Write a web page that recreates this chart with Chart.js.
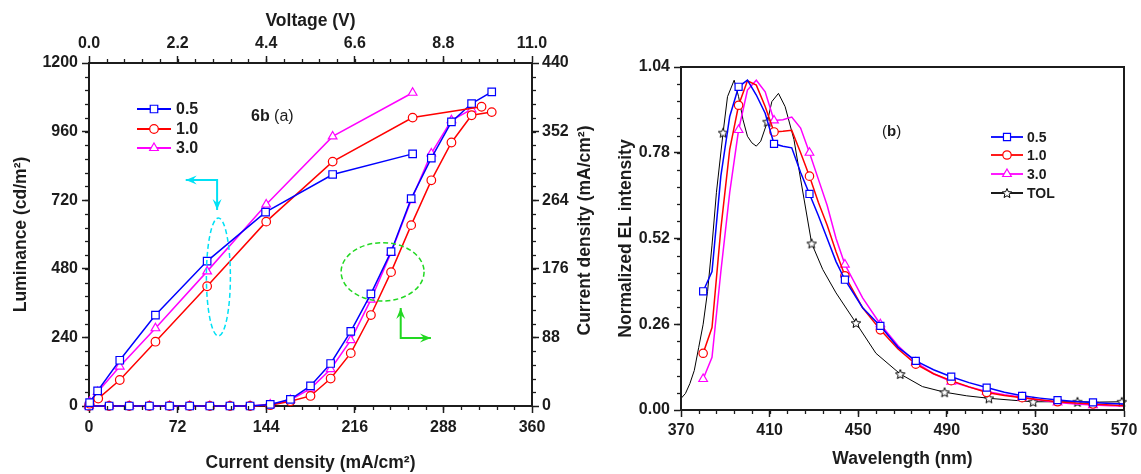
<!DOCTYPE html>
<html>
<head>
<meta charset="utf-8">
<title>EL device characteristics</title>
<script src="https://cdn.jsdelivr.net/npm/chart.js@4.4.1/dist/chart.umd.min.js"></script>
<style>
  html, body { margin: 0; padding: 0; background: #fff; }
  #wrap { position: relative; width: 1141px; height: 474px; overflow: hidden; background: #fff; }
  #panelA { position: absolute; left: 0; top: 0; }
  #panelB { position: absolute; left: 600px; top: 0; }
</style>
</head>
<body>
<div id="wrap">
  <canvas id="panelA" width="600" height="474"></canvas>
  <canvas id="panelB" width="541" height="474"></canvas>
</div>
<script>
// ---------------- Panel (a) data ----------------
const jTicks      = [0, 72, 144, 216, 288, 360];
const vTicks      = [0, 2.2, 4.4, 6.6, 8.8, 11];
const lumTicks    = [0, 240, 480, 720, 960, 1200];
const jRightTicks = [0, 88, 176, 264, 352, 440];

const seriesNames = ['0.5', '1.0', '3.0'];

// luminance (cd/m2) against current density (mA/cm2)
const lumJ05 = [0.5, 7, 25, 54, 96, 143.5, 198, 263];
const lum05  = [12, 53, 160, 318, 507, 678, 810, 882];
const lumJ10 = [0.5, 7.5, 25, 54, 96, 144, 198, 263, 319];
const lum10  = [8, 26, 91, 225, 419, 645, 855, 1009, 1047];
const lumJ30 = [0.5, 7, 25, 54, 96, 144, 198, 263];
const lum30  = [14, 49, 138, 272, 471, 705, 943, 1096];

// current density (mA/cm2) against voltage (V)
const volts   = [0, 0.5, 1, 1.5, 2, 2.5, 3, 3.5, 4, 4.5, 5, 5.5, 6, 6.5, 7, 7.5, 8, 8.5, 9, 9.5, 10];
const jv05    = [0, 0, 0, 0, 0, 0, 0, 0, 0, 2, 8.6, 25.8, 54.5, 95.7, 143.8, 198, 266, 318, 364.5, 388, 403];
const jv10    = [0, 0, 0, 0, 0, 0, 0, 0, 0, 1, 6, 12.9, 35.2, 67.8, 116.7, 171.7, 232, 289.5, 338, 373, 377];
const volts30 = [0, 0.5, 1, 1.5, 2, 2.5, 3, 3.5, 4, 4.5, 5, 5.5, 6, 6.5, 7, 7.5, 8, 8.5, 9, 9.5];
const jv30    = [0, 0, 0, 0, 0, 0, 0, 0, 0, 2, 7.7, 22.3, 47.2, 84.5, 136.5, 196.6, 264, 324, 366.6, 380.6];

// ---------------- Panel (b) data ----------------
const waveTicks = [370, 410, 450, 490, 530, 570];
const elTicks   = [0, 0.26, 0.52, 0.78, 1.04];
const elNames   = ['0.5', '1.0', '3.0', 'TOL'];

const elWave = [380, 384, 388, 392, 396, 400, 404, 408, 412, 416, 420, 424, 428, 432, 436, 440, 444,
                452, 460, 468, 476, 484, 492, 500, 508, 516, 524, 532, 540, 548, 556, 564, 570];
const el05 = [0.36, 0.42, 0.71, 0.89, 0.98, 1.00, 0.955, 0.90, 0.807, 0.80, 0.795, 0.72, 0.655, 0.59, 0.52, 0.45, 0.395,
              0.31, 0.255, 0.19, 0.149, 0.122, 0.101, 0.083, 0.068, 0.054, 0.043, 0.036, 0.030, 0.026, 0.023, 0.020, 0.018];
const el10 = [0.172, 0.25, 0.55, 0.79, 0.924, 0.998, 0.985, 0.92, 0.843, 0.845, 0.848, 0.78, 0.709, 0.63, 0.56, 0.48, 0.407,
              0.31, 0.243, 0.185, 0.139, 0.11, 0.089, 0.07, 0.053, 0.044, 0.0375, 0.031, 0.025, 0.021, 0.018, 0.015, 0.013];
const el30 = [0.094, 0.16, 0.42, 0.66, 0.849, 0.97, 1.00, 0.965, 0.878, 0.88, 0.888, 0.855, 0.78, 0.70, 0.62, 0.52, 0.441,
              0.34, 0.26, 0.195, 0.144, 0.11, 0.086, 0.07, 0.056, 0.046, 0.0385, 0.03, 0.023, 0.018, 0.015, 0.013, 0.012];
const elMarks = [380, 396, 412, 428, 444, 460, 476, 492, 508, 524, 540, 556];

const tolWave = [370, 372, 374, 376, 378, 380, 382, 384, 386, 389, 391, 394, 396, 398, 400, 402, 404, 406, 409, 411,
                 414, 417, 421, 424, 429, 434, 440, 449, 458, 469, 479, 489, 499, 509, 519, 529, 539, 549, 559, 569];
const tolEl   = [0.035, 0.05, 0.08, 0.12, 0.19, 0.26, 0.36, 0.50, 0.66, 0.841, 0.95, 1.00, 0.95, 0.88, 0.83, 0.81, 0.80, 0.815, 0.874, 0.935,
                 0.96, 0.92, 0.82, 0.70, 0.505, 0.426, 0.355, 0.264, 0.172, 0.109, 0.071, 0.054, 0.043, 0.0355, 0.03, 0.025, 0.025, 0.025, 0.024, 0.025];
const tolMarks = [389, 409, 429, 449, 469, 489, 509, 529, 549, 569];

// ---------------- styling ----------------
const FONT = "'Liberation Sans', Arial, Helvetica, sans-serif";
const INK = '#1c1c1c';
const BLUE = '#0000ff', RED = '#ff0000', MAGENTA = '#ff00ff', BLACK = '#000000';
const CYAN = '#00e1f5', GREEN = '#22d822';

Chart.defaults.font.family = FONT;
Chart.defaults.color = INK;

const pts = (xs, ys) => xs.map((x, i) => ({ x: x, y: ys[i] }));
const useTicks = arr => scale => { scale.ticks = arr.map(v => ({ value: v })); };
const tickFont = { size: 16, weight: 'bold' };
const titleFont = { size: 17.5, weight: 'bold' };

function axis(extra) {
  return Object.assign({
    type: 'linear',
    grid: { drawOnChartArea: false, drawTicks: true, tickLength: 7, tickWidth: 1.5, tickColor: INK, color: INK },
    border: { display: true, color: INK, width: 2 }
  }, extra);
}

// hollow five-point star used as the TOL marker
function makeStar(size, color) {
  const c = document.createElement('canvas');
  c.width = size; c.height = size;
  const g = c.getContext('2d');
  const cx = size / 2, cy = size / 2 + 0.5, R = size / 2 - 1, r = R * 0.45;
  g.beginPath();
  for (let i = 0; i < 10; i++) {
    const a = -Math.PI / 2 + i * Math.PI / 5;
    const rr = (i % 2) ? r : R;
    g.lineTo(cx + rr * Math.cos(a), cy + rr * Math.sin(a));
  }
  g.closePath();
  g.fillStyle = '#fff'; g.fill();
  g.strokeStyle = color; g.lineWidth = 1; g.stroke();
  return c;
}
const starImg = makeStar(12, BLACK);

// minor tick marks between labelled ticks
function drawMinor(chart, spec) {
  const ctx = chart.ctx;
  ctx.save();
  ctx.strokeStyle = INK; ctx.lineWidth = 1.3;
  Object.keys(spec).forEach(id => {
    const s = chart.scales[id];
    const { step, from, to, len } = spec[id];
    for (let v = from + step; v < to - step * 0.01; v += step) {
      const p = Math.round(s.getPixelForValue(v)) + 0.5;
      ctx.beginPath();
      if (s.position === 'left')   { ctx.moveTo(s.right, p); ctx.lineTo(s.right - len, p); }
      if (s.position === 'right')  { ctx.moveTo(s.left, p);  ctx.lineTo(s.left + len, p); }
      if (s.position === 'top')    { ctx.moveTo(p, s.bottom); ctx.lineTo(p, s.bottom - len); }
      if (s.position === 'bottom') { ctx.moveTo(p, s.top);   ctx.lineTo(p, s.top + len); }
      ctx.stroke();
    }
  });
  ctx.restore();
}

function legendRows(ctx, rows, x0, x1, xt, font) {
  ctx.save();
  rows.forEach(r => {
    ctx.strokeStyle = r.color; ctx.lineWidth = 1.8;
    ctx.beginPath(); ctx.moveTo(x0, r.y); ctx.lineTo(x1, r.y); ctx.stroke();
    ctx.fillStyle = '#fff'; ctx.lineWidth = 1.2;
    Chart.helpers.drawPoint(ctx, { pointStyle: r.style, radius: r.radius, rotation: 0, borderWidth: 1.2 }, (x0 + x1) / 2, r.y);
    ctx.fillStyle = INK; ctx.font = font; ctx.textBaseline = 'middle'; ctx.textAlign = 'left';
    ctx.fillText(r.label, xt, r.y + 1);
  });
  ctx.restore();
}

function arrowHead(ctx, x, y, dx, dy) {
  const L = 11, W = 4.5, N = 7;
  const px = -dy, py = dx;
  ctx.beginPath();
  ctx.moveTo(x, y);
  ctx.lineTo(x - dx * L + px * W, y - dy * L + py * W);
  ctx.lineTo(x - dx * N, y - dy * N);
  ctx.lineTo(x - dx * L - px * W, y - dy * L - py * W);
  ctx.closePath();
  ctx.fill();
}
function dashedEllipse(ctx, sx, sy, e, color) {
  const xa = sx.getPixelForValue(e.x0), xb = sx.getPixelForValue(e.x1);
  const ya = sy.getPixelForValue(e.y0), yb = sy.getPixelForValue(e.y1);
  ctx.save();
  ctx.strokeStyle = color; ctx.lineWidth = 1.5; ctx.setLineDash([5, 3]);
  ctx.beginPath();
  ctx.ellipse((xa + xb) / 2, (ya + yb) / 2, Math.abs(xb - xa) / 2, Math.abs(yb - ya) / 2, 0, 0, Math.PI * 2);
  ctx.stroke();
  ctx.restore();
}
function elbowArrow(ctx, sx, sy, a, color) {
  const cx = sx.getPixelForValue(a.x), cy = sy.getPixelForValue(a.y);
  const tx = sx.getPixelForValue(a.xTip), ty = sy.getPixelForValue(a.yTip);
  ctx.save();
  ctx.strokeStyle = color; ctx.fillStyle = color; ctx.lineWidth = 2;
  ctx.beginPath(); ctx.moveTo(tx, cy); ctx.lineTo(cx, cy); ctx.lineTo(cx, ty); ctx.stroke();
  arrowHead(ctx, tx, cy, Math.sign(tx - cx), 0);
  arrowHead(ctx, cx, ty, 0, Math.sign(ty - cy));
  ctx.restore();
}

// guides that tie each curve family to its axes (in data units)
const guideA = {
  lumEllipse: { x0: 95.4, x1: 114.9, y0: 245, y1: 658 },
  lumArrow:   { x: 104.1, y: 791, xTip: 78.6, yTip: 686 },
  jvEllipse:  { x0: 6.26, x1: 8.32, y0: 134.7, y1: 209.5 },
  jvArrow:    { x: 7.74, y: 87.2, xTip: 8.49, yTip: 125.7 }
};

const panelAExtras = {
  id: 'panelAExtras',
  afterDatasetsDraw(chart) {
    const ctx = chart.ctx, s = chart.scales;
    dashedEllipse(ctx, s.x, s.y, guideA.lumEllipse, CYAN);
    elbowArrow(ctx, s.x, s.y, guideA.lumArrow, CYAN);
    dashedEllipse(ctx, s.xV, s.yJ, guideA.jvEllipse, GREEN);
    elbowArrow(ctx, s.xV, s.yJ, guideA.jvArrow, GREEN);
  },
  afterDraw(chart) {
    const ctx = chart.ctx, area = chart.chartArea;
    drawMinor(chart, {
      x:  { step: 14.4, from: 0, to: 360, len: 4 },
      xV: { step: 0.44, from: 0, to: 11, len: 4 },
      y:  { step: 48, from: 0, to: 1200, len: 4 },
      yJ: { step: 17.6, from: 0, to: 440, len: 4 }
    });
    legendRows(ctx, [
      { label: seriesNames[0], color: BLUE,    style: 'rect',     radius: 5.3, y: 109 },
      { label: seriesNames[1], color: RED,     style: 'circle',   radius: 4.3, y: 129 },
      { label: seriesNames[2], color: MAGENTA, style: 'triangle', radius: 5,   y: 148 }
    ], 137, 171, 176, 'bold 16px ' + FONT);

    ctx.save();
    ctx.fillStyle = INK; ctx.textBaseline = 'middle'; ctx.textAlign = 'left';
    ctx.font = 'bold 16px ' + FONT;
    ctx.fillText('6b', 251, 117);
    const w = ctx.measureText('6b ').width;
    ctx.font = '16px ' + FONT;
    ctx.fillText('(a)', 251 + w, 117);

    // right-hand axis title, reading upwards
    ctx.translate(585, (area.top + area.bottom) / 2 - 4);
    ctx.rotate(-Math.PI / 2);
    ctx.textAlign = 'center';
    ctx.font = 'bold 17.5px ' + FONT;
    ctx.fillText('Current density (mA/cm\u00B2)', 0, 0);
    ctx.restore();
  }
};

const lineStyle = (color, style, radius) => ({
  borderColor: color, backgroundColor: '#fff', borderWidth: 1.5,
  pointStyle: style, pointRadius: radius, pointBorderWidth: 1.2, pointBorderColor: color, pointBackgroundColor: '#fff',
  showLine: true, clip: false, tension: 0
});

new Chart(document.getElementById('panelA'), {
  type: 'scatter',
  data: {
    datasets: [
      Object.assign({ label: seriesNames[0], data: pts(lumJ05, lum05), xAxisID: 'x', yAxisID: 'y' }, lineStyle(BLUE, 'rect', 5.3)),
      Object.assign({ label: seriesNames[1], data: pts(lumJ10, lum10), xAxisID: 'x', yAxisID: 'y' }, lineStyle(RED, 'circle', 4.3)),
      Object.assign({ label: seriesNames[2], data: pts(lumJ30, lum30), xAxisID: 'x', yAxisID: 'y' }, lineStyle(MAGENTA, 'triangle', 5)),
      Object.assign({ label: seriesNames[0], data: pts(volts, jv05), xAxisID: 'xV', yAxisID: 'yJ' }, lineStyle(BLUE, 'rect', 5.3)),
      Object.assign({ label: seriesNames[1], data: pts(volts, jv10), xAxisID: 'xV', yAxisID: 'yJ' }, lineStyle(RED, 'circle', 4.3)),
      Object.assign({ label: seriesNames[2], data: pts(volts30, jv30), xAxisID: 'xV', yAxisID: 'yJ' }, lineStyle(MAGENTA, 'triangle', 5))
    ]
  },
  options: {
    responsive: false, animation: false, events: [],
    layout: { padding: 0 },
    plugins: { legend: { display: false }, tooltip: { enabled: false } },
    scales: {
      x: axis({
        axis: 'x', position: 'bottom', min: 0, max: 360,
        afterBuildTicks: useTicks(jTicks),
        afterFit: s => { s.height = 68; },
        ticks: { font: tickFont, color: INK, padding: 5, autoSkip: false, maxRotation: 0, callback: v => String(v) },
        title: { display: true, text: 'Current density (mA/cm\u00B2)', font: titleFont, color: INK, padding: { top: 0, bottom: 0.5 } }
      }),
      xV: axis({
        axis: 'x', position: 'top', min: 0, max: 11,
        afterBuildTicks: useTicks(vTicks),
        afterFit: s => { s.height = 63; },
        ticks: { font: tickFont, color: INK, padding: 3, autoSkip: false, maxRotation: 0, callback: v => Number(v).toFixed(1) },
        title: { display: true, text: 'Voltage (V)', font: titleFont, color: INK, padding: { top: 10.5, bottom: 0 } }
      }),
      y: axis({
        axis: 'y', position: 'left', min: 0, max: 1200,
        afterBuildTicks: useTicks(lumTicks),
        afterFit: s => { s.width = 89; },
        ticks: { font: tickFont, color: INK, padding: 4, autoSkip: false, callback: v => String(v) },
        title: { display: true, text: 'Luminance (cd/m\u00B2)', font: titleFont, color: INK, padding: { top: 10.5, bottom: 0 } }
      }),
      yJ: axis({
        axis: 'y', position: 'right', min: 0, max: 440,
        afterBuildTicks: useTicks(jRightTicks),
        afterFit: s => { s.width = 68; },
        ticks: { font: tickFont, color: INK, padding: 3, autoSkip: false, callback: v => String(v) },
        title: { display: false }
      })
    }
  },
  plugins: [panelAExtras]
});

// ---------------- Panel (b): normalized EL spectra ----------------
const panelBExtras = {
  id: 'panelBExtras',
  afterDraw(chart) {
    const ctx = chart.ctx, a = chart.chartArea;
    ctx.save();
    ctx.strokeStyle = INK; ctx.lineWidth = 2;
    ctx.strokeRect(a.left, a.top, a.right - a.left, a.bottom - a.top);
    ctx.restore();
    drawMinor(chart, {
      x: { step: 8, from: 370, to: 570, len: 4 },
      y: { step: 0.052, from: 0, to: 1.04, len: 4 }
    });
    legendRows(ctx, [
      { label: elNames[0], color: BLUE,    style: 'rect',     radius: 5,   y: 137 },
      { label: elNames[1], color: RED,     style: 'circle',   radius: 4.2, y: 155 },
      { label: elNames[2], color: MAGENTA, style: 'triangle', radius: 5,   y: 174 },
      { label: elNames[3], color: BLACK,   style: starImg,    radius: 5,   y: 193 }
    ], 391, 423, 427, 'bold 14px ' + FONT);

    ctx.save();
    ctx.fillStyle = INK; ctx.textBaseline = 'middle'; ctx.textAlign = 'left';
    let x = 282;
    ctx.font = '15px ' + FONT; ctx.fillText('(', x, 132); x += ctx.measureText('(').width;
    ctx.font = 'bold 15px ' + FONT; ctx.fillText('b', x, 132); x += ctx.measureText('b').width;
    ctx.font = '15px ' + FONT; ctx.fillText(')', x, 132);
    ctx.restore();
  }
};

const markAt = (marks, r) => c => (c.raw && marks.indexOf(c.raw.x) >= 0) ? r : 0;

new Chart(document.getElementById('panelB'), {
  type: 'scatter',
  data: {
    datasets: [
      Object.assign({ label: elNames[0], data: pts(elWave, el05) }, lineStyle(BLUE, 'rect', markAt(elMarks, 5))),
      Object.assign({ label: elNames[1], data: pts(elWave, el10) }, lineStyle(RED, 'circle', markAt(elMarks, 4.2))),
      Object.assign({ label: elNames[2], data: pts(elWave, el30) }, lineStyle(MAGENTA, 'triangle', markAt(elMarks, 5))),
      Object.assign({ label: elNames[3], data: pts(tolWave, tolEl) }, lineStyle(BLACK, starImg, markAt(tolMarks, 5)), { borderWidth: 1 })
    ]
  },
  options: {
    responsive: false, animation: false, events: [],
    layout: { padding: { top: 67, right: 17, left: 0, bottom: 0 } },
    plugins: { legend: { display: false }, tooltip: { enabled: false } },
    scales: {
      x: axis({
        position: 'bottom', min: 370, max: 570,
        afterBuildTicks: useTicks(waveTicks),
        afterFit: s => { s.height = 64; },
        ticks: { font: tickFont, color: INK, padding: 3.5, autoSkip: false, maxRotation: 0, callback: v => String(v) },
        title: { display: true, text: 'Wavelength (nm)', font: titleFont, color: INK, padding: { top: 0, bottom: 4.5 } }
      }),
      y: axis({
        position: 'left', min: 0, max: 1.04,
        afterBuildTicks: useTicks(elTicks),
        afterFit: s => { s.width = 81; },
        ticks: { font: tickFont, color: INK, padding: 4, autoSkip: false, callback: v => Number(v).toFixed(2) },
        title: { display: true, text: 'Normalized EL intensity', font: titleFont, color: INK, padding: { top: 15.5, bottom: 0 } }
      })
    }
  },
  plugins: [panelBExtras]
});
</script>
</body>
</html>
